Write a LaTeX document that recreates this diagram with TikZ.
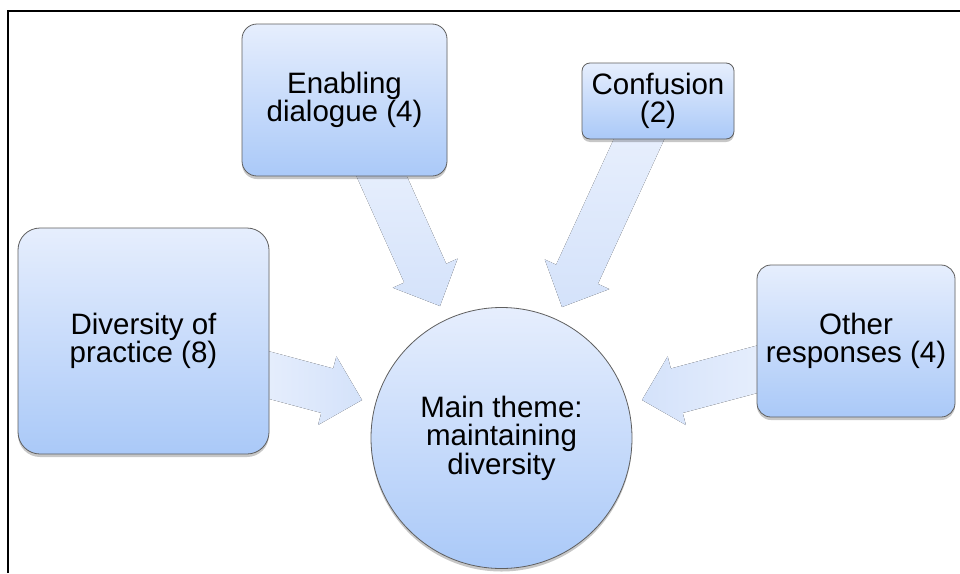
\documentclass[tikz,border=0pt]{standalone}
\usepackage{fontspec}
\setmainfont{Liberation Sans}
\usetikzlibrary{calc,shadows,backgrounds}
\definecolor{boxtop}{RGB}{230,238,253}
\definecolor{boxbot}{RGB}{170,201,248}
\definecolor{arrlight}{RGB}{233,240,253}
\definecolor{arrdark}{RGB}{212,226,250}
\definecolor{edgegray}{RGB}{95,95,95}
\tikzset{
  themebox/.style={draw=edgegray, line width=0.8pt, top color=boxtop, bottom color=boxbot,
    align=center, inner sep=0pt, font=\fontsize{29.5}{28.5}\selectfont,
    drop shadow={shadow xshift=0pt, shadow yshift=-3pt, opacity=0.22, fill=black}},
  themecircle/.style={themebox, circle, minimum size=261pt},
  arrowvert/.style={top color=arrlight, bottom color=arrdark, draw=none},
  arrowright/.style={left color=arrlight, right color=arrdark, draw=none},
  arrowleft/.style={right color=arrlight, left color=arrdark, draw=none},
}
\newcommand{\blockarrow}[3]{%
  \coordinate (#1h) at ($(#2)!36pt!(#1)$);
  \fill[#3] ($(#1)!23pt!90:(#2)$) -- ($(#1h)!23pt!90:(#2)$) -- ($(#1h)!35.5pt!90:(#2)$)
    -- (#2) -- ($(#1h)!35.5pt!-90:(#2)$) -- ($(#1h)!23pt!-90:(#2)$)
    -- ($(#1)!23pt!-90:(#2)$) -- cycle;
}
\begin{document}
\begin{tikzpicture}[x=1pt,y=-1pt]
\useasboundingbox (0,0) rectangle (960,573);
\draw[line width=1.6pt] (8,573) -- (8,11) -- (960,11);

\node[themebox, rounded corners=15pt, minimum width=205pt, minimum height=152pt] (enab) at (344.5,100) {Enabling\\dialogue (4)};
\node[themebox, rounded corners=8pt, minimum width=152pt, minimum height=76pt] (conf) at (658,101) {Confusion\\(2)};
\node[themebox, rounded corners=22pt, minimum width=251pt, minimum height=226pt] (div) at (143.5,341) {Diversity of\\practice (8)};
\node[themebox, rounded corners=14pt, minimum width=198pt, minimum height=152pt] (other) at (856,341) {Other\\responses (4)};
\node[themecircle] (main) at (501.5,438) {Main theme:\\maintaining\\diversity};

\coordinate (s1) at (373,157);
\coordinate (t1) at (440,306);
\coordinate (s2) at (646,124);
\coordinate (t2) at (562,307);
\coordinate (s3) at (250,370);
\coordinate (t3) at (362,400);
\coordinate (s4) at (777,364);
\coordinate (t4) at (642,400);

\begin{scope}[on background layer]
  \fill[white] (0,0) rectangle (960,573);
  \blockarrow{s1}{t1}{arrowvert}
  \blockarrow{s2}{t2}{arrowvert}
  \blockarrow{s3}{t3}{arrowright}
  \blockarrow{s4}{t4}{arrowleft}
\end{scope}
\end{tikzpicture}
\end{document}
